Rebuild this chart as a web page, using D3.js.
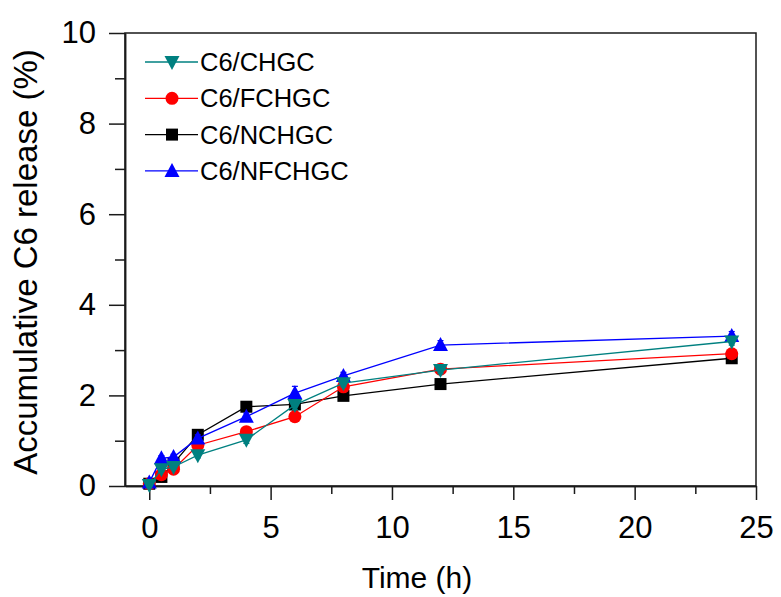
<!DOCTYPE html>
<html>
<head>
<meta charset="utf-8">
<script src="https://cdn.jsdelivr.net/npm/d3@7"></script>
<style>
  body { margin: 0; background: #fff; }
  svg { display: block; font-family: "Liberation Sans", Arial, sans-serif; }
</style>
</head>
<body>
<svg id="chart" width="781" height="597"></svg>
<script>
// time points (h)
var times = [0, 0.5, 1, 2, 4, 6, 8, 12, 24];

// release values (%)
var chgc   = [0.02, 0.37, 0.42, 0.68, 1.02, 1.79, 2.27, 2.56, 3.19];
var fchgc  = [0.05, 0.25, 0.37, 0.90, 1.20, 1.53, 2.19, 2.58, 2.92];
var nchgc  = [0.05, 0.20, 0.50, 1.13, 1.75, 1.80, 1.99, 2.25, 2.82];
var nfchgc = [0.08, 0.61, 0.64, 1.05, 1.53, 2.05, 2.43, 3.11, 3.31];

// small error bars
var chgcErr   = [0.02, 0.05, 0.05, 0.06, 0.08, 0.10, 0.08, 0.08, 0.08];
var fchgcErr  = [0.02, 0.05, 0.05, 0.08, 0.08, 0.08, 0.08, 0.08, 0.10];
var nchgcErr  = [0.02, 0.05, 0.06, 0.08, 0.08, 0.12, 0.06, 0.06, 0.08];
var nfchgcErr = [0.03, 0.06, 0.06, 0.08, 0.08, 0.15, 0.08, 0.10, 0.10];

var xTicks = [0, 5, 10, 15, 20, 25];
var xMinor = [2.5, 7.5, 12.5, 17.5, 22.5];
var yTicks = [0, 2, 4, 6, 8, 10];
var yMinor = [1, 3, 5, 7, 9];

var legendNames = ["C6/CHGC", "C6/FCHGC", "C6/NCHGC", "C6/NFCHGC"];

var series = [
    {name: "C6/NCHGC",  values: nchgc,  err: nchgcErr,  color: "#000000", symbol: "square"},
    {name: "C6/FCHGC",  values: fchgc,  err: fchgcErr,  color: "#ff0000", symbol: "circle"},
    {name: "C6/NFCHGC", values: nfchgc, err: nfchgcErr, color: "#0000ff", symbol: "up"},
    {name: "C6/CHGC",   values: chgc,   err: chgcErr,   color: "#008080", symbol: "down"}
];

var svg = d3.select("svg#chart");

var x = d3.scaleLinear().domain([-1, 25]).range([125, 756]);
var y = d3.scaleLinear().domain([0, 10]).range([486, 33]);

function drawSymbol(g, type, color) {
    if (type == "square") {
        g.append("rect").attr("x", -6).attr("y", -6).attr("width", 12).attr("height", 12).attr("fill", color);
    } else if (type == "circle") {
        g.append("circle").attr("r", 6.5).attr("fill", color);
    } else if (type == "up") {
        g.append("path").attr("d", "M0,-8L7.5,6L-7.5,6Z").attr("fill", color);
    } else {
        g.append("path").attr("d", "M0,8L7.5,-6L-7.5,-6Z").attr("fill", color);
    }
}

// frame
svg.append("rect")
    .attr("x", x.range()[0])
    .attr("y", y.range()[1])
    .attr("width", x.range()[1] - x.range()[0])
    .attr("height", y.range()[0] - y.range()[1])
    .attr("fill", "none")
    .attr("stroke", "#1a1a1a")
    .attr("stroke-width", 1.5);

// axes
svg.append("g")
    .attr("transform", "translate(0," + y.range()[0] + ")")
    .call(d3.axisBottom(x).tickValues(xTicks).tickSize(14).tickSizeOuter(0).tickPadding(16));
svg.append("g")
    .attr("transform", "translate(0," + y.range()[0] + ")")
    .call(d3.axisBottom(x).tickValues(xMinor).tickSize(8).tickSizeOuter(0).tickFormat(""));

svg.append("g")
    .attr("transform", "translate(" + x.range()[0] + ",0)")
    .call(d3.axisLeft(y).tickValues(yTicks).tickSize(16).tickSizeOuter(0).tickPadding(13));
svg.append("g")
    .attr("transform", "translate(" + x.range()[0] + ",0)")
    .call(d3.axisLeft(y).tickValues(yMinor).tickSize(10).tickSizeOuter(0).tickFormat(""));

svg.selectAll(".domain").attr("stroke", "#1a1a1a").attr("stroke-width", 1.5);
svg.selectAll(".tick line").attr("stroke", "#1a1a1a").attr("stroke-width", 1.5);
svg.selectAll(".tick text")
    .attr("fill", "#000")
    .style("font-size", "31px")
    .style("font-family", "Liberation Sans, Arial, sans-serif");

// axis titles
svg.append("text")
    .attr("x", 417)
    .attr("y", 588)
    .attr("text-anchor", "middle")
    .style("font-size", "30px")
    .text("Time (h)");

svg.append("text")
    .attr("transform", "translate(37,262) rotate(-90)")
    .attr("text-anchor", "middle")
    .style("font-size", "33px")
    .text("Accumulative C6 release (%)");

// series
series.forEach(function(s) {
    var pts = times.map(function(t, i) { return {t: t, v: s.values[i], e: s.err[i]}; });
    var g = svg.append("g");

    g.append("path")
        .datum(pts)
        .attr("fill", "none")
        .attr("stroke", s.color)
        .attr("stroke-width", 1.3)
        .attr("d", d3.line().x(d => x(d.t)).y(d => y(d.v)));

    g.selectAll("g.err").data(pts).enter()
        .append("g")
        .attr("class", "err")
        .each(function(d) {
            var eg = d3.select(this);
            eg.append("line")
                .attr("x1", x(d.t)).attr("x2", x(d.t))
                .attr("y1", y(d.v - d.e)).attr("y2", y(d.v + d.e))
                .attr("stroke", s.color).attr("stroke-width", 1.2);
            [d.v - d.e, d.v + d.e].forEach(function(v) {
                eg.append("line")
                    .attr("x1", x(d.t) - 3).attr("x2", x(d.t) + 3)
                    .attr("y1", y(v)).attr("y2", y(v))
                    .attr("stroke", s.color).attr("stroke-width", 1.2);
            });
        });

    g.selectAll("g.mark").data(pts).enter()
        .append("g")
        .attr("class", "mark")
        .attr("transform", d => "translate(" + x(d.t) + "," + y(d.v) + ")")
        .each(function() { drawSymbol(d3.select(this), s.symbol, s.color); });
});

// legend
var legend = svg.append("g");
legendNames.forEach(function(name, i) {
    var s = series.find(d => d.name == name);
    var row = legend.append("g").attr("transform", "translate(0," + (62 + i * 36.3) + ")");
    row.append("line")
        .attr("x1", 145).attr("x2", 198)
        .attr("stroke", s.color).attr("stroke-width", 1.3);
    var m = row.append("g").attr("transform", "translate(172,0)");
    drawSymbol(m, s.symbol, s.color);
    row.append("text")
        .attr("x", 200)
        .attr("y", 9)
        .style("font-size", "25.5px")
        .text(name);
});
</script>
</body>
</html>
